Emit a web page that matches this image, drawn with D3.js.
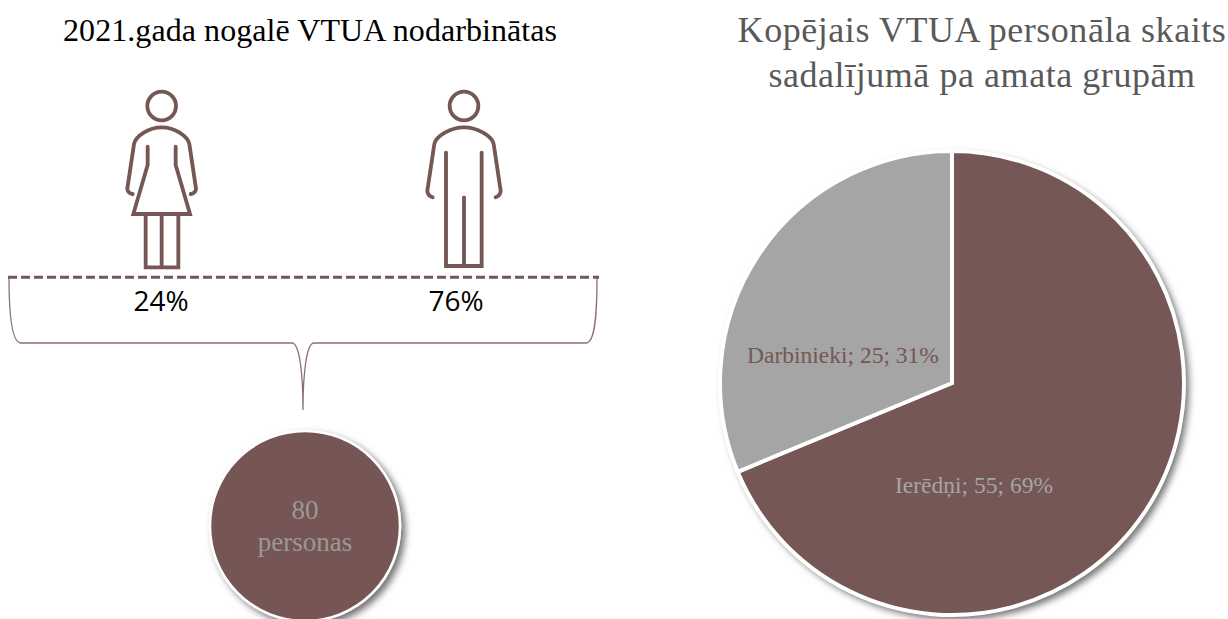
<!DOCTYPE html>
<html><head><meta charset="utf-8">
<script src="https://cdnjs.cloudflare.com/ajax/libs/d3/7.8.5/d3.min.js"></script>
<style>html,body{margin:0;padding:0;background:#fff;overflow:hidden}svg{display:block}</style>
</head><body><svg id="c" width="1228" height="619"></svg>
<script>
const pieCategories = ["Ierēdņi", "Darbinieki"];
const pieValues = [55, 25];
const piePercents = [69, 31];
const genderShares = [24, 76];
const totalCount = 80;
const totalUnit = "personas";
const leftTitle = "2021.gada nogalē VTUA nodarbinātas";
const rightTitle = ["Kopējais VTUA personāla skaits", "sadalījumā pa amata grupām"];

const brown = "#755755", grey = "#a5a5a5", serif = "'Liberation Serif', serif";
const svg = d3.select("#c");
const defs = svg.append("defs");
const f = defs.append("filter").attr("id","sh").attr("x","-20%").attr("y","-20%").attr("width","150%").attr("height","150%");
f.append("feDropShadow").attr("dx",4).attr("dy",4).attr("stdDeviation",3.5).attr("flood-color","#000").attr("flood-opacity",0.55);

// titles
svg.append("text").attr("x",310).attr("y",41).attr("text-anchor","middle")
  .style("font",`32px ${serif}`).attr("textLength",494).attr("fill","#000").text(leftTitle);
svg.selectAll("text.rt").data(rightTitle).join("text").attr("class","rt")
  .attr("x",982).attr("y",(d,i)=>42+i*45).attr("text-anchor","middle")
  .style("font",`36px ${serif}`).style("letter-spacing","0.55px").attr("fill","#595959").text(d=>d);

// pictograms: paths in zoom-crop units (3x), placed by a transform
const icon = (x,y,head,paths)=>{
  const g = svg.append("g").attr("transform",`translate(${x},${y}) scale(${1/3})`)
    .attr("fill","none").attr("stroke",brown).attr("stroke-width",11.5).attr("stroke-linecap","round").attr("stroke-linejoin","miter");
  g.append("circle").attr("cx",head[0]).attr("cy",head[1]).attr("r",43);
  paths.forEach(p=>g.append("path").attr("d",p));
};
icon(100,80,[185,78],[
  "M98 342C88 340 82 336 82 326L102 192C106 170 145 142 185 142C225 142 264 170 268 192L288 326C288 336 282 340 272 342",
  "M143 200V255L100 402H270L227 255V200",
  "M137 402V562H235V402M185 402V562"
]);
icon(400,80,[192,78],[
  "M98 352C88 348 82 342 82 332L103 192C107 170 150 142 192 142C234 142 277 170 281 192L302 332C302 342 296 348 287 352",
  "M138 218V558H245V218",
  "M192 352V558"
]);

// dashed baseline and percentages
svg.append("line").attr("x1",8).attr("x2",599).attr("y1",277.3).attr("y2",277.3)
  .attr("stroke",brown).attr("stroke-width",3).attr("stroke-dasharray","9 4");
const shareX = d3.scalePoint().domain(genderShares).range([161,456]);
svg.selectAll("text.pct").data(genderShares).join("text").attr("class","pct")
  .attr("x",d=>shareX(d)).attr("y",311).attr("text-anchor","middle")
  .style("font","28px 'Open Sans', sans-serif").attr("fill","#000").text(d=>d+"%");

// brace
svg.append("path").attr("fill","none").attr("stroke",brown).attr("stroke-opacity",0.85).attr("stroke-width",1.3)
  .attr("d","M9 277C9 315 12 343 21 343H292C299 343 303 370 303 410C303 370 307 343 314 343H586C595 343 597 315 597 277");

// circle
svg.append("circle").attr("cx",305).attr("cy",526).attr("r",95).attr("fill",brown).attr("stroke","#fff").attr("stroke-width",2.5).attr("filter","url(#sh)");
svg.selectAll("text.tot").data([totalCount,totalUnit]).join("text").attr("class","tot")
  .attr("x",305).attr("y",(d,i)=>519+i*32).attr("text-anchor","middle")
  .style("font",`27px ${serif}`).attr("fill",grey).attr("fill-opacity",0.85).text(d=>d);

// pie
const pieRadius = 232;
const pieData = d3.pie().sort(null)(pieValues);
const arc = d3.arc().innerRadius(0).outerRadius(pieRadius);
const pg = svg.append("g").attr("transform","translate(952,383)");
pg.append("circle").attr("r",pieRadius+1).attr("fill","#fff").attr("filter","url(#sh)");
pg.selectAll("path").data(pieData).join("path").attr("d",arc)
  .attr("fill",(d,i)=>i?grey:brown).attr("stroke","#fff").attr("stroke-width",4);
const labelPos = [[22,104],[-109,-26]];
pg.selectAll("text").data(pieData).join("text")
  .attr("x",(d,i)=>labelPos[i][0]).attr("y",(d,i)=>labelPos[i][1]+6).attr("text-anchor","middle")
  .style("font",`23.5px ${serif}`).attr("fill",(d,i)=>i?brown:grey)
  .text((d,i)=>`${pieCategories[i]}; ${d.value}; ${piePercents[i]}%`);
</script></body></html>
